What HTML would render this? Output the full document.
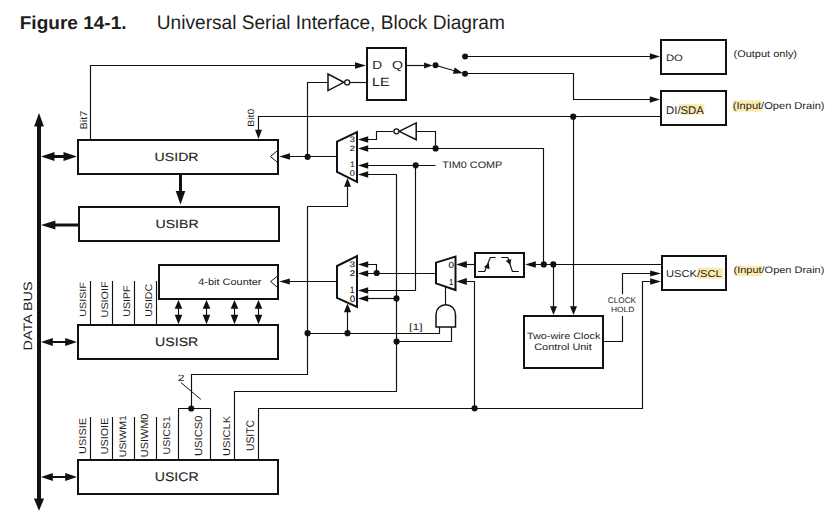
<!DOCTYPE html>
<html><head><meta charset="utf-8">
<style>
html,body{margin:0;padding:0;background:#fff;width:839px;height:516px;overflow:hidden}
svg{position:absolute;left:0;top:0;display:block}
text{font-family:"Liberation Sans",sans-serif;fill:#1e1e1e;text-rendering:geometricPrecision}
</style></head><body>
<svg width="839" height="516" viewBox="0 0 839 516">
<text x="0" y="0" font-size="18.617" font-weight="bold" transform="translate(19.71,28.75) scale(1.0233,1)">Figure 14-1.</text>
<text x="0" y="0" font-size="19.674" font-weight="normal" transform="translate(156.82,28.92) scale(0.9713,1)">Universal Serial Interface, Block Diagram</text>
<path d="M39.0,124 V499.5" fill="none" stroke="#111111" stroke-width="4.0" stroke-linejoin="miter" stroke-linecap="butt"/>
<polygon points="39.00,113.10 34.10,126.40 43.90,126.40" fill="#111111"/>
<polygon points="39.00,510.80 33.90,498.40 44.10,498.40" fill="#111111"/>
<text x="0" y="0" font-size="12.222" font-weight="normal" transform="translate(32.41,350.40) rotate(-90) scale(1.1748,1)">DATA BUS</text>
<path d="M53.5,156.5 H64.5" fill="none" stroke="#111111" stroke-width="3.0" stroke-linejoin="miter" stroke-linecap="butt"/>
<polygon points="41.00,156.50 54.50,152.10 54.50,160.90" fill="#111111"/>
<polygon points="77.00,156.50 63.50,152.10 63.50,160.90" fill="#111111"/>
<path d="M54.4,225.0 H78" fill="none" stroke="#111111" stroke-width="3.0" stroke-linejoin="miter" stroke-linecap="butt"/>
<polygon points="41.00,225.00 55.40,220.50 55.40,229.50" fill="#111111"/>
<path d="M51.8,342.0 H66.2" fill="none" stroke="#111111" stroke-width="2.0" stroke-linejoin="miter" stroke-linecap="butt"/>
<polygon points="41.00,342.00 52.80,338.10 52.80,345.90" fill="#111111"/>
<polygon points="77.00,342.00 65.20,338.10 65.20,345.90" fill="#111111"/>
<path d="M51.8,477.0 H66.2" fill="none" stroke="#111111" stroke-width="2.0" stroke-linejoin="miter" stroke-linecap="butt"/>
<polygon points="41.00,477.00 52.80,473.10 52.80,480.90" fill="#111111"/>
<polygon points="77.00,477.00 65.20,473.10 65.20,480.90" fill="#111111"/>
<rect x="78" y="140" width="200.00" height="34.00" fill="none" stroke="#111111" stroke-width="2.0"/>
<rect x="79" y="207" width="200.00" height="34.00" fill="none" stroke="#111111" stroke-width="2.0"/>
<rect x="78" y="325" width="200.00" height="34.00" fill="none" stroke="#111111" stroke-width="2.0"/>
<rect x="78" y="460" width="200.00" height="34.00" fill="none" stroke="#111111" stroke-width="2.0"/>
<rect x="159" y="265" width="119.00" height="34.00" fill="none" stroke="#111111" stroke-width="2.0"/>
<text x="0" y="0" font-size="11.806" font-weight="normal" stroke="#1e1e1e" stroke-width="0.12" transform="translate(154.62,160.61) scale(1.1967,1)">USIDR</text>
<text x="0" y="0" font-size="11.806" font-weight="normal" stroke="#1e1e1e" stroke-width="0.12" transform="translate(155.42,227.51) scale(1.1981,1)">USIBR</text>
<text x="0" y="0" font-size="12.222" font-weight="normal" stroke="#1e1e1e" stroke-width="0.12" transform="translate(155.02,345.51) scale(1.1600,1)">USISR</text>
<text x="0" y="0" font-size="12.639" font-weight="normal" stroke="#1e1e1e" stroke-width="0.12" transform="translate(154.72,480.50) scale(1.1204,1)">USICR</text>
<text x="0" y="0" font-size="9.324" font-weight="normal" transform="translate(198.23,284.96) scale(1.1752,1)">4-bit Counter</text>
<path d="M180.5,175 V192" fill="none" stroke="#111111" stroke-width="3.0" stroke-linejoin="miter" stroke-linecap="butt"/>
<polygon points="180.50,204.50 175.70,191.00 185.30,191.00" fill="#111111"/>
<polyline points="277,151 270.4,156.5 277,162" fill="none" stroke="#111111" stroke-width="1"/>
<polygon points="279.20,156.50 290.00,153.30 290.00,159.70" fill="#111111"/>
<path d="M289,156.5 H336" fill="none" stroke="#111111" stroke-width="1.15" stroke-linejoin="miter" stroke-linecap="butt"/>
<circle cx="307.6" cy="156.8" r="3.1" fill="#111111"/>
<polyline points="277,276.5 270.6,281.5 277,287" fill="none" stroke="#111111" stroke-width="1"/>
<polygon points="279.20,281.50 289.80,278.40 289.80,284.60" fill="#111111"/>
<path d="M289,281.5 H336" fill="none" stroke="#111111" stroke-width="1.15" stroke-linejoin="miter" stroke-linecap="butt"/>
<path d="M178.5,307 V316" fill="none" stroke="#111111" stroke-width="1.15" stroke-linejoin="miter" stroke-linecap="butt"/>
<polygon points="178.50,299.90 174.70,308.70 182.30,308.70" fill="#111111"/>
<polygon points="178.50,324.20 174.70,314.80 182.30,314.80" fill="#111111"/>
<path d="M206.5,307 V316" fill="none" stroke="#111111" stroke-width="1.15" stroke-linejoin="miter" stroke-linecap="butt"/>
<polygon points="206.50,299.90 202.70,308.70 210.30,308.70" fill="#111111"/>
<polygon points="206.50,324.20 202.70,314.80 210.30,314.80" fill="#111111"/>
<path d="M234.5,307 V316" fill="none" stroke="#111111" stroke-width="1.15" stroke-linejoin="miter" stroke-linecap="butt"/>
<polygon points="234.50,299.90 230.70,308.70 238.30,308.70" fill="#111111"/>
<polygon points="234.50,324.20 230.70,314.80 238.30,314.80" fill="#111111"/>
<path d="M258.5,307 V316" fill="none" stroke="#111111" stroke-width="1.15" stroke-linejoin="miter" stroke-linecap="butt"/>
<polygon points="258.50,299.90 254.70,308.70 262.30,308.70" fill="#111111"/>
<polygon points="258.50,324.20 254.70,314.80 262.30,314.80" fill="#111111"/>
<path d="M90.5,281 V324" fill="none" stroke="#111111" stroke-width="1.15" stroke-linejoin="miter" stroke-linecap="butt"/>
<path d="M112.5,281 V324" fill="none" stroke="#111111" stroke-width="1.15" stroke-linejoin="miter" stroke-linecap="butt"/>
<path d="M134.5,281 V324" fill="none" stroke="#111111" stroke-width="1.15" stroke-linejoin="miter" stroke-linecap="butt"/>
<path d="M156.5,281 V324" fill="none" stroke="#111111" stroke-width="1.15" stroke-linejoin="miter" stroke-linecap="butt"/>
<text x="0" y="0" font-size="9.028" font-weight="normal" transform="translate(85.77,316.81) rotate(-90) scale(1.1934,1)">USISIF</text>
<text x="0" y="0" font-size="9.583" font-weight="normal" transform="translate(108.06,317.41) rotate(-90) scale(1.1277,1)">USIOIF</text>
<text x="0" y="0" font-size="9.583" font-weight="normal" transform="translate(129.86,316.80) rotate(-90) scale(1.1138,1)">USIPF</text>
<text x="0" y="0" font-size="9.722" font-weight="normal" transform="translate(151.86,316.80) rotate(-90) scale(1.0872,1)">USIDC</text>
<path d="M90.5,417 V459" fill="none" stroke="#111111" stroke-width="1.15" stroke-linejoin="miter" stroke-linecap="butt"/>
<path d="M112.5,417 V459" fill="none" stroke="#111111" stroke-width="1.15" stroke-linejoin="miter" stroke-linecap="butt"/>
<path d="M134.5,417 V459" fill="none" stroke="#111111" stroke-width="1.15" stroke-linejoin="miter" stroke-linecap="butt"/>
<path d="M156.5,417 V459" fill="none" stroke="#111111" stroke-width="1.15" stroke-linejoin="miter" stroke-linecap="butt"/>
<text x="0" y="0" font-size="9.861" font-weight="normal" transform="translate(85.95,454.03) rotate(-90) scale(1.1200,1)">USISIE</text>
<text x="0" y="0" font-size="10.139" font-weight="normal" transform="translate(108.05,454.31) rotate(-90) scale(1.0650,1)">USIOIE</text>
<text x="0" y="0" font-size="9.444" font-weight="normal" transform="translate(125.66,457.19) rotate(-90) scale(1.1107,1)">USIWM1</text>
<text x="0" y="0" font-size="10.417" font-weight="normal" transform="translate(148.34,457.22) rotate(-90) scale(1.0466,1)">USIWM0</text>
<text x="0" y="0" font-size="9.861" font-weight="normal" transform="translate(170.15,454.50) rotate(-90) scale(1.0811,1)">USICS1</text>
<text x="0" y="0" font-size="10.417" font-weight="normal" transform="translate(202.14,455.94) rotate(-90) scale(1.0725,1)">USICS0</text>
<text x="0" y="0" font-size="9.861" font-weight="normal" transform="translate(230.25,455.94) rotate(-90) scale(1.1264,1)">USICLK</text>
<text x="0" y="0" font-size="11.111" font-weight="normal" transform="translate(254.43,450.98) rotate(-90) scale(0.9281,1)">USITC</text>
<path d="M178.5,459 V408.5 H210.5 V459" fill="none" stroke="#111111" stroke-width="1.15" stroke-linejoin="miter" stroke-linecap="butt"/>
<circle cx="191.2" cy="408.5" r="3.1" fill="#111111"/>
<path d="M191.5,408.5 V374.5 H307.5 V206.5 H347.5 V185" fill="none" stroke="#111111" stroke-width="1.15" stroke-linejoin="miter" stroke-linecap="butt"/>
<polygon points="347.50,178.00 344.00,186.80 351.00,186.80" fill="#111111"/>
<path d="M180.9,382.5 L200.8,399.4" fill="none" stroke="#111111" stroke-width="1" stroke-linejoin="miter" stroke-linecap="butt"/>
<text x="0" y="0" font-size="9.143" font-weight="normal" transform="translate(177.86,380.55) scale(1.3315,1)">2</text>
<path d="M90.5,139 V65.5 H356" fill="none" stroke="#111111" stroke-width="1.15" stroke-linejoin="miter" stroke-linecap="butt"/>
<polygon points="366.00,65.50 355.00,62.30 355.00,68.70" fill="#111111"/>
<text x="0" y="0" font-size="9.865" font-weight="normal" transform="translate(86.55,129.53) rotate(-90) scale(1.1214,1)">Bit7</text>
<path d="M258.5,130 V116.5 H660" fill="none" stroke="#111111" stroke-width="1.15" stroke-linejoin="miter" stroke-linecap="butt"/>
<polygon points="258.50,139.00 255.00,129.80 262.00,129.80" fill="#111111"/>
<text x="0" y="0" font-size="9.054" font-weight="normal" transform="translate(253.77,126.68) rotate(-90) scale(1.1459,1)">Bit0</text>
<circle cx="573.2" cy="116.7" r="3.1" fill="#111111"/>
<path d="M573.5,116.5 V307" fill="none" stroke="#111111" stroke-width="1.15" stroke-linejoin="miter" stroke-linecap="butt"/>
<polygon points="573.50,315.00 570.00,306.20 577.00,306.20" fill="#111111"/>
<rect x="367" y="48" width="39.00" height="52.00" fill="none" stroke="#111111" stroke-width="2.0"/>
<text x="0" y="0" font-size="11.714" font-weight="normal" transform="translate(372.36,68.65) scale(1.1667,1)">D</text>
<text x="0" y="0" font-size="11.556" font-weight="normal" transform="translate(392.08,68.54) scale(1.2239,1)">Q</text>
<text x="0" y="0" font-size="11.857" font-weight="normal" transform="translate(371.90,85.95) scale(1.2114,1)">LE</text>
<polygon points="328,74 328,90.6 343.8,82.3" fill="none" stroke="#111111" stroke-width="1.5" stroke-linejoin="miter"/>
<circle cx="347.2" cy="82.4" r="2.5" fill="#fff" stroke="#111111" stroke-width="1.3"/>
<path d="M349.7,82.5 H366" fill="none" stroke="#111111" stroke-width="1.15" stroke-linejoin="miter" stroke-linecap="butt"/>
<path d="M328,82.5 H307.5 V156.5" fill="none" stroke="#111111" stroke-width="1.15" stroke-linejoin="miter" stroke-linecap="butt"/>
<path d="M406,65.5 H426" fill="none" stroke="#111111" stroke-width="1.15" stroke-linejoin="miter" stroke-linecap="butt"/>
<polygon points="432.50,65.50 424.10,62.50 424.10,68.50" fill="#111111"/>
<circle cx="435.5" cy="65.3" r="3.0" fill="#111111"/>
<path d="M435.5,65.3 L456,71.2" fill="none" stroke="#111111" stroke-width="1.15" stroke-linejoin="miter" stroke-linecap="butt"/>
<polygon points="463.00,73.30 452.89,73.71 454.67,67.56" fill="#111111"/>
<circle cx="465.0" cy="73.8" r="3.0" fill="#111111"/>
<circle cx="465.1" cy="56.5" r="3.0" fill="#111111"/>
<path d="M465,56.5 H650" fill="none" stroke="#111111" stroke-width="1.15" stroke-linejoin="miter" stroke-linecap="butt"/>
<polygon points="660.00,56.50 649.80,53.30 649.80,59.70" fill="#111111"/>
<path d="M465,73.5 H573.5 V99.5 H650" fill="none" stroke="#111111" stroke-width="1.15" stroke-linejoin="miter" stroke-linecap="butt"/>
<polygon points="660.00,99.50 649.80,96.30 649.80,102.70" fill="#111111"/>
<rect x="661" y="40" width="65.00" height="34.00" fill="none" stroke="#111111" stroke-width="2.0"/>
<rect x="661" y="91" width="65.00" height="34.00" fill="none" stroke="#111111" stroke-width="2.0"/>
<rect x="662" y="256" width="64.00" height="34.00" fill="none" stroke="#111111" stroke-width="2.0"/>
<rect x="679.2" y="103.8" width="25.1" height="11" fill="#fcebb0"/>
<rect x="732.4" y="100.3" width="29.3" height="11.4" fill="#fcebb0"/>
<rect x="697.9" y="267.6" width="25.3" height="11.2" fill="#fcebb0"/>
<rect x="734.4" y="265.8" width="28.0" height="10.4" fill="#fcebb0"/>
<text x="0" y="0" font-size="9.306" font-weight="normal" transform="translate(665.95,60.66) scale(1.2148,1)">DO</text>
<text x="0" y="0" font-size="11.216" font-weight="normal" transform="translate(666.04,113.83) scale(1.0126,1)">DI/SDA</text>
<text x="0" y="0" font-size="9.865" font-weight="normal" transform="translate(666.06,277.05) scale(1.1300,1)">USCK/SCL</text>
<text x="0" y="0" font-size="9.574" font-weight="normal" transform="translate(733.49,57.44) scale(1.1496,1)">(Output only)</text>
<text x="0" y="0" font-size="10.000" font-weight="normal" transform="translate(732.79,108.85) scale(1.1078,1)">(Input/Open Drain)</text>
<text x="0" y="0" font-size="9.468" font-weight="normal" transform="translate(733.49,273.07) scale(1.1610,1)">(Input/Open Drain)</text>
<polygon points="337,141.7 357,132.0 357,181.8 337,171.8" fill="none" stroke="#111111" stroke-width="2" stroke-linejoin="miter"/>
<text x="0" y="0" font-size="7.917" font-weight="normal" stroke="#1e1e1e" stroke-width="0.15" transform="translate(349.78,142.29) scale(1.1579,1)">3</text>
<text x="0" y="0" font-size="7.714" font-weight="normal" stroke="#1e1e1e" stroke-width="0.15" transform="translate(349.77,150.55) scale(1.2399,1)">2</text>
<text x="0" y="0" font-size="7.857" font-weight="normal" stroke="#1e1e1e" stroke-width="0.15" transform="translate(350.14,167.45) scale(0.9697,1)">1</text>
<text x="0" y="0" font-size="8.333" font-weight="normal" stroke="#1e1e1e" stroke-width="0.15" transform="translate(349.78,176.38) scale(1.1000,1)">0</text>
<polygon points="358.00,139.50 368.20,136.30 368.20,142.70" fill="#111111"/>
<polygon points="358.00,148.50 368.20,145.30 368.20,151.70" fill="#111111"/>
<polygon points="358.00,165.50 368.20,162.30 368.20,168.70" fill="#111111"/>
<polygon points="358.00,174.50 368.20,171.30 368.20,177.70" fill="#111111"/>
<path d="M368,139.5 H376.5 V131.5 H393.5" fill="none" stroke="#111111" stroke-width="1.15" stroke-linejoin="miter" stroke-linecap="butt"/>
<polygon points="399.2,131.3 416.2,122.9 416.2,139.7" fill="none" stroke="#111111" stroke-width="1.5"/>
<circle cx="396.4" cy="131.3" r="2.5" fill="#fff" stroke="#111111" stroke-width="1.3"/>
<path d="M416.2,131.5 H435.5 V148.5" fill="none" stroke="#111111" stroke-width="1.15" stroke-linejoin="miter" stroke-linecap="butt"/>
<circle cx="435.6" cy="148.4" r="3.1" fill="#111111"/>
<path d="M368,148.5 H543.5 V264.5" fill="none" stroke="#111111" stroke-width="1.15" stroke-linejoin="miter" stroke-linecap="butt"/>
<path d="M368,165.5 H435.5" fill="none" stroke="#111111" stroke-width="1.15" stroke-linejoin="miter" stroke-linecap="butt"/>
<circle cx="415.7" cy="165.3" r="3.1" fill="#111111"/>
<path d="M415.5,165.5 V290.5 H368" fill="none" stroke="#111111" stroke-width="1.15" stroke-linejoin="miter" stroke-linecap="butt"/>
<path d="M368,174.5 H396.5 V391.5 H234.5 V459" fill="none" stroke="#111111" stroke-width="1.15" stroke-linejoin="miter" stroke-linecap="butt"/>
<text x="0" y="0" font-size="9.444" font-weight="normal" transform="translate(442.13,167.96) scale(1.1477,1)">TIM0 COMP</text>
<polygon points="337,266.0 357,256.0 357,307.0 337,297.8" fill="none" stroke="#111111" stroke-width="2" stroke-linejoin="miter"/>
<text x="0" y="0" font-size="7.917" font-weight="normal" stroke="#1e1e1e" stroke-width="0.15" transform="translate(349.55,267.29) scale(1.2632,1)">3</text>
<text x="0" y="0" font-size="8.143" font-weight="normal" stroke="#1e1e1e" stroke-width="0.15" transform="translate(349.53,275.55) scale(1.2815,1)">2</text>
<text x="0" y="0" font-size="9.286" font-weight="normal" stroke="#1e1e1e" stroke-width="0.15" transform="translate(350.12,293.15) scale(0.8462,1)">1</text>
<text x="0" y="0" font-size="9.167" font-weight="normal" stroke="#1e1e1e" stroke-width="0.15" transform="translate(349.66,301.67) scale(1.0682,1)">0</text>
<polygon points="358.00,264.50 368.20,261.20 368.20,267.80" fill="#111111"/>
<polygon points="358.00,273.50 368.20,270.20 368.20,276.80" fill="#111111"/>
<polygon points="358.00,290.50 368.20,287.20 368.20,293.80" fill="#111111"/>
<polygon points="358.00,298.50 368.20,295.20 368.20,301.80" fill="#111111"/>
<path d="M368,264.5 H376.5 V273.5" fill="none" stroke="#111111" stroke-width="1.15" stroke-linejoin="miter" stroke-linecap="butt"/>
<circle cx="376.7" cy="273.0" r="3.1" fill="#111111"/>
<path d="M368,273.5 H435" fill="none" stroke="#111111" stroke-width="1.15" stroke-linejoin="miter" stroke-linecap="butt"/>
<path d="M368,298.5 H396.5" fill="none" stroke="#111111" stroke-width="1.15" stroke-linejoin="miter" stroke-linecap="butt"/>
<circle cx="396.5" cy="298.4" r="3.1" fill="#111111"/>
<path d="M347.5,311 V333.5" fill="none" stroke="#111111" stroke-width="1.15" stroke-linejoin="miter" stroke-linecap="butt"/>
<polygon points="347.50,303.40 343.90,312.20 351.10,312.20" fill="#111111"/>
<path d="M307.5,333.5 H439.5 V327" fill="none" stroke="#111111" stroke-width="1.15" stroke-linejoin="miter" stroke-linecap="butt"/>
<circle cx="307.6" cy="333.2" r="3.1" fill="#111111"/>
<circle cx="347.5" cy="333.2" r="3.1" fill="#111111"/>
<path d="M396.5,341.5 H451.5 V327" fill="none" stroke="#111111" stroke-width="1.15" stroke-linejoin="miter" stroke-linecap="butt"/>
<circle cx="396.6" cy="341.5" r="3.1" fill="#111111"/>
<text x="0" y="0" font-size="8.936" font-weight="normal" transform="translate(409.07,329.68) scale(1.3755,1)">[1]</text>
<polygon points="436,262.6 455.5,256.6 455.5,290.0 436,283.4" fill="none" stroke="#111111" stroke-width="2" stroke-linejoin="miter"/>
<text x="0" y="0" font-size="8.750" font-weight="normal" stroke="#1e1e1e" stroke-width="0.15" transform="translate(448.56,267.67) scale(1.1190,1)">0</text>
<text x="0" y="0" font-size="8.714" font-weight="normal" stroke="#1e1e1e" stroke-width="0.15" transform="translate(449.02,284.85) scale(0.9016,1)">1</text>
<polygon points="456.20,264.50 466.80,261.10 466.80,267.90" fill="#111111"/>
<polygon points="456.20,281.50 466.80,278.10 466.80,284.90" fill="#111111"/>
<path d="M466,264.5 H474" fill="none" stroke="#111111" stroke-width="1.15" stroke-linejoin="miter" stroke-linecap="butt"/>
<path d="M466,281.5 H474.5 V408.5" fill="none" stroke="#111111" stroke-width="1.15" stroke-linejoin="miter" stroke-linecap="butt"/>
<circle cx="474.6" cy="408.3" r="3.1" fill="#111111"/>
<path d="M258.5,459 V408.5 H642.5 V281.5 H651" fill="none" stroke="#111111" stroke-width="1.15" stroke-linejoin="miter" stroke-linecap="butt"/>
<polygon points="661.00,281.50 650.20,278.30 650.20,284.70" fill="#111111"/>
<path d="M436,327 V314.4 A9.75,9.75 0 0 1 455.5,314.4 V327 Z" fill="none" stroke="#111111" stroke-width="1.5"/>
<path d="M445.5,304.6 V287" fill="none" stroke="#111111" stroke-width="1.15" stroke-linejoin="miter" stroke-linecap="butt"/>
<rect x="475" y="253" width="49.00" height="24.00" fill="none" stroke="#111111" stroke-width="2.0"/>
<path d="M478.2,271.5 H484.7 L490.3,257.5 H495.6" fill="none" stroke="#111111" stroke-width="1.2" stroke-linejoin="miter" stroke-linecap="butt"/>
<path d="M501.2,257.5 H507.8 L512.4,271.5 H518.8" fill="none" stroke="#111111" stroke-width="1.2" stroke-linejoin="miter" stroke-linecap="butt"/>
<polygon points="488.80,263.00 489.51,269.31 483.93,267.09" fill="#111111"/>
<polygon points="510.20,265.00 505.66,260.81 511.36,258.93" fill="#111111"/>
<polygon points="525.20,264.50 535.80,261.20 535.80,267.80" fill="#111111"/>
<path d="M535,264.5 H661" fill="none" stroke="#111111" stroke-width="1.15" stroke-linejoin="miter" stroke-linecap="butt"/>
<circle cx="543.8" cy="264.4" r="3.1" fill="#111111"/>
<circle cx="553.3" cy="264.4" r="3.1" fill="#111111"/>
<path d="M553.5,264.5 V307" fill="none" stroke="#111111" stroke-width="1.15" stroke-linejoin="miter" stroke-linecap="butt"/>
<polygon points="553.50,315.00 550.00,306.20 557.00,306.20" fill="#111111"/>
<rect x="524" y="316" width="79.00" height="52.00" fill="none" stroke="#111111" stroke-width="2.0"/>
<text x="0" y="0" font-size="9.189" font-weight="normal" transform="translate(526.93,338.97) scale(1.1800,1)">Two-wire Clock</text>
<text x="0" y="0" font-size="9.459" font-weight="normal" transform="translate(534.19,350.46) scale(1.1564,1)">Control Unit</text>
<path d="M604,341.5 H622.5 V316" fill="none" stroke="#111111" stroke-width="1.15" stroke-linejoin="miter" stroke-linecap="butt"/>
<path d="M622.5,294.3 V273.5 H651" fill="none" stroke="#111111" stroke-width="1.15" stroke-linejoin="miter" stroke-linecap="butt"/>
<polygon points="661.00,273.50 650.20,270.40 650.20,276.60" fill="#111111"/>
<text x="0" y="0" font-size="8.194" font-weight="normal" transform="translate(607.76,302.89) scale(1.0024,1)">CLOCK</text>
<text x="0" y="0" font-size="7.500" font-weight="normal" transform="translate(610.98,311.70) scale(1.1212,1)">HOLD</text>
</svg>
</body></html>
